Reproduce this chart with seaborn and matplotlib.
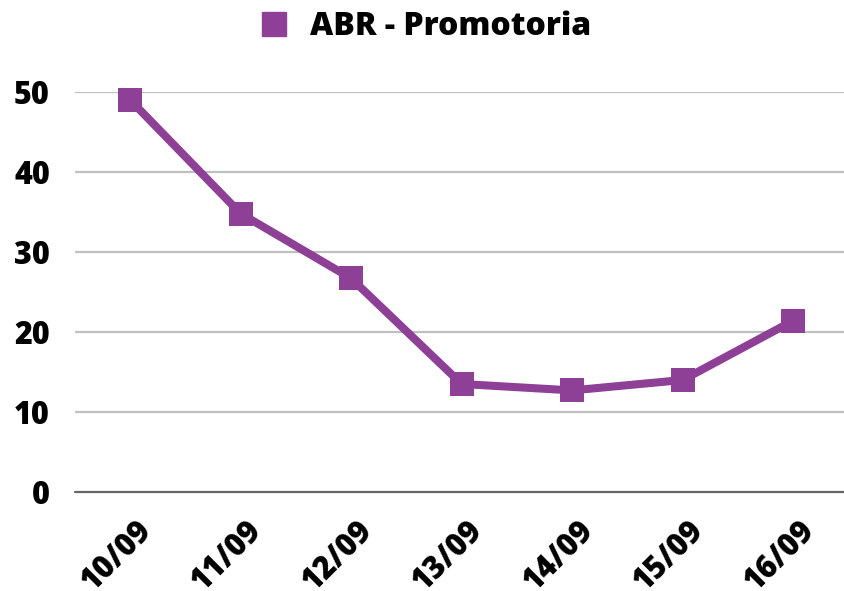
import matplotlib
matplotlib.use("Agg")
import matplotlib.pyplot as plt
import matplotlib.transforms as mtransforms
from matplotlib.lines import Line2D
import seaborn as sns
import pandas as pd

# data
dates = ["10/09", "11/09", "12/09", "13/09", "14/09", "15/09", "16/09"]
values = [49.0, 34.8, 26.7, 13.5, 12.7, 14.0, 21.4]
series_name = "ABR - Promotoria"
yticks = [0, 10, 20, 30, 40, 50]

purple = "#8E3F96"

sns.set_theme(style="white")
plt.rcParams["font.family"] = ["Open Sans", "DejaVu Sans"]
plt.rcParams["font.weight"] = 800
plt.rcParams["text.color"] = "black"
plt.rcParams["xtick.color"] = "black"
plt.rcParams["ytick.color"] = "black"

df = pd.DataFrame({"date": dates, "value": values})

fig = plt.figure(figsize=(8.45, 5.91), dpi=100)
ax = fig.add_axes([75 / 845, 99 / 591, 770 / 845, 400 / 591])

sns.lineplot(x="date", y="value", data=df, ax=ax, color=purple, linewidth=5.8,
             marker="s", markersize=17.5, markeredgewidth=0, sort=False)
for ln in ax.lines:
    ln.set_clip_on(False)
    ln.set_zorder(5)

ax.set_xlim(-0.5, 6.47)
ax.set_ylim(0, 50)
ax.set_yticks(yticks)
ax.set_xlabel("")
ax.set_ylabel("")

# gridlines and baseline
for v in yticks[1:]:
    ax.axhline(v, color="#BFBFBF", linewidth=1.6, zorder=1)
ax.axhline(0, color="#666666", linewidth=1.6, zorder=2, clip_on=False)
for s in ax.spines.values():
    s.set_visible(False)

ax.tick_params(axis="both", length=0, labelsize=22, labelcolor="black")
ax.tick_params(axis="y", pad=18)
for lbl in ax.get_yticklabels():
    lbl.set_fontweight(800)
    lbl.set_horizontalalignment("right")

offset = mtransforms.ScaledTranslation(17 / 100, -29 / 100, fig.dpi_scale_trans)
for lbl in ax.get_xticklabels():
    lbl.set_fontweight(800)
    lbl.set_rotation(45)
    lbl.set_rotation_mode("anchor")
    lbl.set_horizontalalignment("right")
    lbl.set_verticalalignment("center")
    lbl.set_transform(lbl.get_transform() + offset)

handle = Line2D([], [], color=purple, marker="s", linestyle="none", markersize=17.5)
fig.legend([handle], [series_name], loc="center", bbox_to_anchor=(423 / 845, 1 - 27 / 591),
           frameon=False, prop={"size": 23, "weight": 800}, handletextpad=0.5,
           handlelength=1.2)

fig.savefig("out.png", dpi=100)
